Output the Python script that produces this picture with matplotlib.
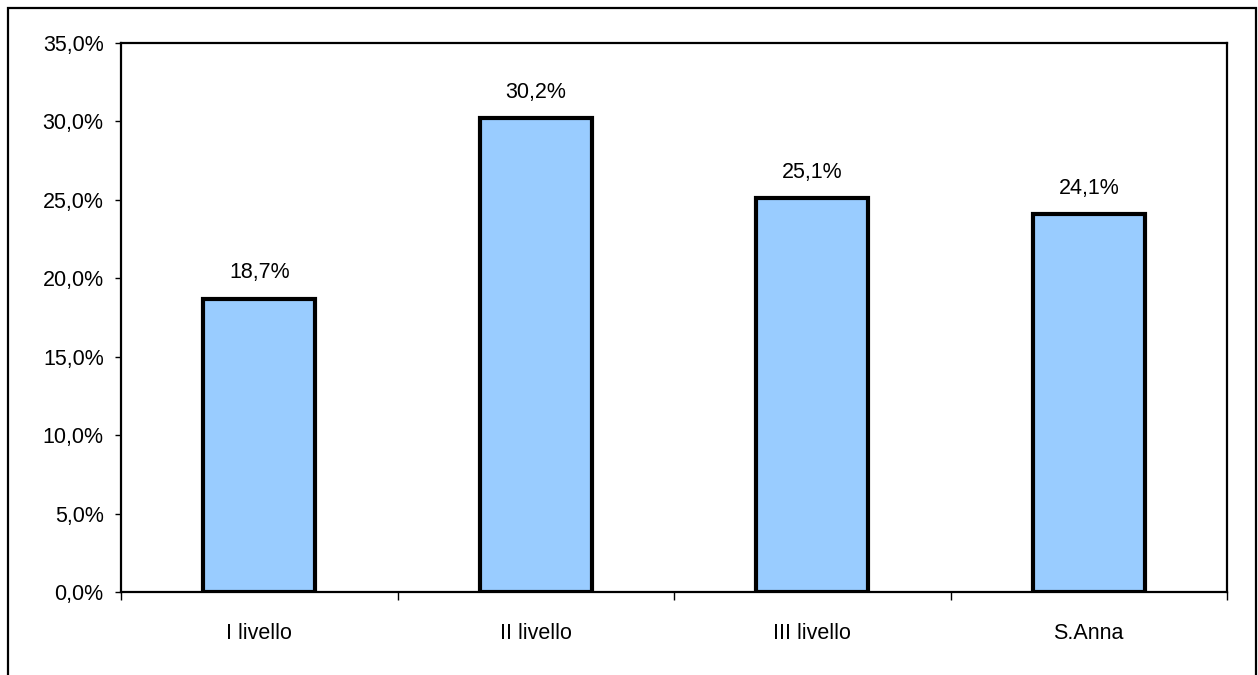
import matplotlib.pyplot as plt
from matplotlib.patches import Rectangle
from matplotlib.ticker import FuncFormatter, MultipleLocator

categories = ['I livello', 'II livello', 'III livello', 'S.Anna']
values = [18.7, 30.2, 25.1, 24.1]

plt.rcParams['font.family'] = ['Liberation Sans', 'DejaVu Sans']

fig = plt.figure(figsize=(12.58, 6.75), dpi=100)
ax = fig.add_axes([121 / 1258, 1 - 592 / 675, 1106 / 1258, 549 / 675])

# outer frame around the whole chart (bottom edge falls outside)
fig.patches.append(Rectangle((8 / 1258, -0.05), 1248 / 1258, 1.05 - 8 / 675,
                             transform=fig.transFigure, fill=False,
                             edgecolor='black', linewidth=1.6))

x = range(len(categories))
bars = ax.bar(x, values, width=0.405, color='#99CCFF',
              edgecolor='black', linewidth=3, zorder=3)

for b, v in zip(bars, values):
    ax.annotate(f'{v:.1f}%'.replace('.', ','),
                (b.get_x() + b.get_width() / 2, v),
                xytext=(0, 11), textcoords='offset points',
                ha='center', va='bottom', fontsize=15.5)

ax.set_xlim(-0.5, len(categories) - 0.5)
ax.set_ylim(0, 35)
ax.yaxis.set_major_locator(MultipleLocator(5))
ax.yaxis.set_major_formatter(FuncFormatter(lambda v, p: f'{v:.1f}%'.replace('.', ',')))

# category labels centred, ticks on category boundaries
ax.set_xticks(list(x))
ax.set_xticklabels(categories, fontsize=15.5)
ax.tick_params(axis='x', length=0, pad=22)
ax.set_xticks([i - 0.5 for i in range(len(categories) + 1)], minor=True)
ax.tick_params(axis='x', which='minor', length=6, width=1, color='black')
ax.tick_params(axis='y', length=4, width=1, labelsize=15.5, pad=8.5)

for s in ax.spines.values():
    s.set_linewidth(1.6)

fig.savefig('out.png', dpi=100)
